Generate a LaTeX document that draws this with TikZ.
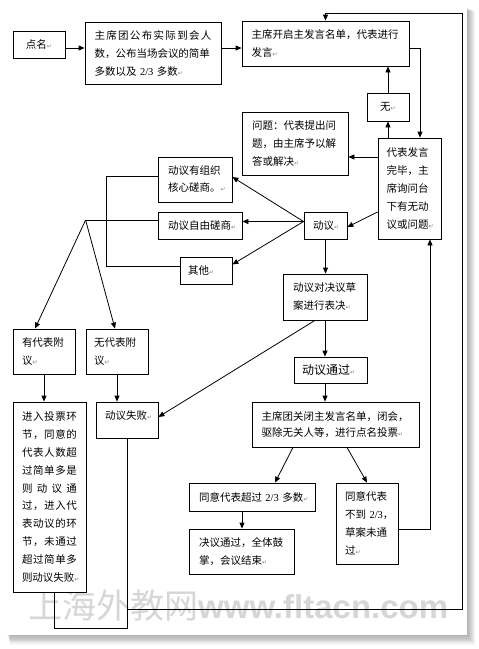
\documentclass[tikz,border=0pt]{standalone}
\usepackage{fontspec}
\setmainfont{Noto Sans CJK SC}
\newfontfamily\cjk{Noto Sans CJK SC}
\newfontfamily\dejavu{DejaVu Sans}
\newfontfamily\wmlatin{Liberation Sans}
\newfontfamily\latserif{Liberation Serif}
\usetikzlibrary{arrows.meta,calc}
\newcommand\ret{{\dejavu\fontsize{6}{6}\selectfont\textcolor{black!50}{↵}}}
\newcommand\twothirds{{\latserif 2/3}}
\def\sprX#1{\ifx#1\relax\else#1\hfil\expandafter\sprX\fi}
\newcommand\spr[2]{\makebox[#1][s]{\sprX#2\relax\unskip}}
\tikzset{
  box/.style={draw=black, line width=0.8pt, fill=white, rectangle, inner ysep=0pt,
    font=\cjk\fontsize{10.5}{18}\selectfont, align=left},
  arr/.style={-{Triangle[length=6pt,width=5pt]}, line width=0.8pt},
  ln/.style={line width=0.8pt},
}
\begin{document}
\begin{tikzpicture}[x=1pt,y=-1pt]
\useasboundingbox (0,0) rectangle (479,649);
% page and shadow
\foreach \i in {1,...,8}{
  \fill[black, opacity=0.045] (7+0.4*\i,7+0.5*\i) rectangle (467+\i,635+1.2*\i);
}
\fill[white] (7,7) rectangle (467,635);
% watermark
\node[anchor=base west, inner sep=0pt, text=black!16] (wm) at (28,618.5)
  {{\cjk\fontsize{34}{34}\selectfont 上海外教网}{\wmlatin\bfseries\fontsize{33}{33}\selectfont www.fltacn.com}};

% boxes
\node[box, minimum width=52pt, minimum height=27pt, text width=52pt, inner xsep=0pt, align=center] (dianming) at (39,44.5) {点名\ret};
\node[box, minimum width=136pt, minimum height=62pt, text width=117pt, inner xsep=9.5pt] (gongbu) at (153,53)
  {\spr{117pt}{主席团公布实际到会人}\\数，公布当场会议的简单\\\mbox{多数以及 \twothirds\ 多数\ret}};
\node[box, minimum width=167pt, minimum height=45pt, text width=148pt, inner xsep=9.5pt] (kaiqi) at (325.5,43.5)
  {主席开启主发言名单，代表进行\\发言\ret};
\node[box, minimum width=42pt, minimum height=28pt, text width=42pt, inner xsep=0pt, align=center] (wu) at (388,107) {无\ret};
\node[box, minimum width=106pt, minimum height=63pt, text width=86pt, inner xsep=10pt] (wenti) at (295,143.5)
  {问题：代表提出问\\题，由主席予以解\\答或解决\ret};
\node[box, minimum width=63pt, minimum height=101pt, text width=46pt, inner xsep=8.5pt, font=\cjk\fontsize{10.5}{17.8}\selectfont] (wanbi) at (409.5,188.5)
  {代表发言\\完毕，主\\席询问台\\下有无动\\议或问题\ret};
\node[box, minimum width=74pt, minimum height=45pt, text width=54pt, inner xsep=10pt, font=\cjk\fontsize{10.5}{17}\selectfont] (youzuzhi) at (195,179.5)
  {动议有组织\\核心磋商。\ret};
\node[box, minimum width=84pt, minimum height=27pt, text width=64pt, inner xsep=10pt] (ziyou) at (200,225.5) {动议自由磋商\ret};
\node[box, minimum width=52pt, minimum height=27pt, text width=36pt, inner xsep=8pt] (qita) at (206,270.5) {其他\ret};
\node[box, minimum width=43pt, minimum height=27pt, text width=25pt, inner xsep=9pt] (dongyi) at (325.5,225.5) {动议\ret};
\node[box, minimum width=84pt, minimum height=46pt, text width=64pt, inner xsep=10pt] (biaojue) at (325,297)
  {动议对决议草\\案进行表决\ret};
\node[box, minimum width=62pt, minimum height=45pt, text width=44pt, inner xsep=9pt] (youfu) at (44,351.5) {有代表附\\议\ret};
\node[box, minimum width=62pt, minimum height=45pt, text width=46pt, inner xsep=8pt] (wufu) at (117,351.5) {无代表附\\议\ret};
\node[box, minimum width=73pt, minimum height=190pt, text width=55pt, inner xsep=9pt, font=\cjk\fontsize{10.5}{17.9}\selectfont] (toupiao) at (49.5,497)
  {\spr{55pt}{进入投票环}\\\spr{55pt}{节，同意的}\\\spr{55pt}{代表人数超}\\\spr{55pt}{过简单多是}\\\spr{55pt}{则动议通}\\\spr{55pt}{过，进入代}\\\spr{55pt}{表动议的环}\\\spr{55pt}{节，未通过}\\\spr{55pt}{超过简单多}\\则动议失败\ret};
\node[box, minimum width=62pt, minimum height=36pt, text width=44pt, inner xsep=9pt] (shibai) at (127,420)
  {\raisebox{4pt}[\height][\depth]{动议失败\ret}};
\node[box, minimum width=73pt, minimum height=26pt, text width=57pt, inner xsep=8pt, font=\cjk\fontsize{12}{18}\selectfont] (tongguo) at (330.5,370) {动议通过\ret};
\node[box, minimum width=167pt, minimum height=45pt, text width=148pt, inner xsep=9.5pt, font=\cjk\fontsize{10.5}{16.4}\selectfont] (guanbi) at (335.5,424.5)
  {主席团关闭主发言名单，闭会，\\驱除无关人等，进行点名投票\ret};
\node[box, minimum width=126pt, minimum height=28pt, text width=106pt, inner xsep=10pt] (chaoguo) at (252,497)
  {\mbox{同意代表超过 \twothirds\ 多数\ret}};
\node[box, minimum width=105pt, minimum height=45pt, text width=85pt, inner xsep=10pt] (jueyi) at (241.5,551.5)
  {决议通过，全体鼓\\掌，会议结束\ret};
\node[box, minimum width=62pt, minimum height=81pt, text width=44pt, inner xsep=9pt] (budao) at (367,523.5)
  {同意代表\\\mbox{不到 \twothirds，}\\草案未通\\过\ret};

% connectors
\coordinate (a1) at ([yshift=-3.5pt]dianming.east);
\draw[arr] (a1) -- (a1 -| gongbu.west);
\coordinate (b1) at ([yshift=5pt]gongbu.east);
\draw[arr] (b1) -- (b1 -| kaiqi.west);
\coordinate (loopB) at (127,628);
\coordinate (loopR) at (462,609);
\coordinate (loopT) at (462,13);
\draw[ln] (shibai.south) -- (shibai.south |- loopB) -| ([xshift=4.5pt]toupiao.south);
\draw[arr] (shibai.south |- loopR) -- (loopR) -- (loopT) -- (loopT -| kaiqi.north) -- (kaiqi.north);
\draw[arr] ([yshift=-4.5pt]kaiqi.east) -| ([xshift=10.5pt]wanbi.north);
\draw[arr] (wu.south |- wanbi.north) -- (wu.south);
\draw[arr] (wu.north) -- (wu.north |- kaiqi.south);
\coordinate (g1) at ([yshift=31.5pt]wanbi.west);
\draw[arr] (g1) -- (g1 -| wenti.east);
\draw[arr] ([yshift=-23.5pt]wanbi.west) -- ([yshift=-1.5pt]dongyi.east);
\coordinate (fan) at ([yshift=4pt]dongyi.west);
\draw[arr] (fan) -- ([yshift=2.5pt]youzuzhi.east);
\draw[arr] (fan) -- (fan -| ziyou.east);
\draw[arr] (fan) -- ([yshift=6pt]qita.east);
\draw[ln] ([yshift=3.5pt]youzuzhi.west) -- ++(-51,0) |- ([yshift=4.5pt]qita.west);
\coordinate (apex) at ([xshift=-72pt,yshift=5.5pt]ziyou.west);
\draw[ln] (ziyou.west |- apex) -- (apex);
\draw[arr] (apex) -- ([xshift=-9pt]youfu.north);
\draw[arr] (apex) -- ([xshift=-2pt]wufu.north);
\draw[arr] (youfu.south) -- (youfu.south |- toupiao.north);
\draw[arr] (wufu.south) -- (wufu.south |- shibai.north);
\draw[arr] (dongyi.south) -- (dongyi.south |- biaojue.north);
\draw[arr] ([xshift=-10pt]biaojue.south) -- ([yshift=3pt]shibai.east);
\draw[arr] (biaojue.south) -- (biaojue.south |- tongguo.north);
\draw[arr] (biaojue.south |- tongguo.south) -- (biaojue.south |- guanbi.north);
\draw[arr] ([xshift=-42.5pt]guanbi.south) -- ([xshift=23pt]chaoguo.north);
\draw[arr] ([xshift=11.5pt]guanbi.south) -- (budao.north);
\coordinate (t1) at ([xshift=-10pt]chaoguo.south);
\draw[arr] (t1) -- (t1 |- jueyi.north);
\draw[arr] ([yshift=-5.5pt]budao.east) -| ([xshift=20.5pt]wanbi.south);
\end{tikzpicture}
\end{document}
